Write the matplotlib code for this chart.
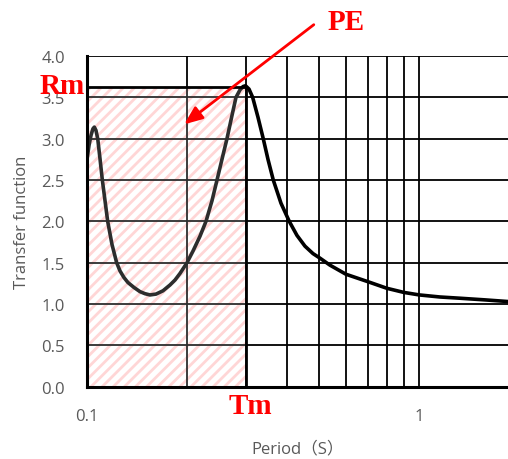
#!/usr/bin/env python3
"""Transfer function vs period, with the PE area hatched up to Tm."""

import matplotlib
matplotlib.use("Agg")
import matplotlib.pyplot as plt
from matplotlib.patches import Rectangle
from matplotlib.ticker import FixedLocator, NullLocator


period = [0.1000, 0.1014, 0.1028, 0.1042, 0.1052, 0.1064, 0.1077, 0.1094,
          0.1112, 0.1154, 0.1189, 0.1228, 0.1257, 0.1292, 0.1328, 0.1385,
          0.1443, 0.1494, 0.1547, 0.1613, 0.1693, 0.1777, 0.1840, 0.1905,
          0.2000, 0.2084, 0.2188, 0.2281, 0.2378, 0.2462, 0.2548, 0.2638,
          0.2731, 0.2808, 0.2887, 0.2948, 0.3000, 0.3073, 0.3152, 0.3270,
          0.3392, 0.3505, 0.3636, 0.3835, 0.4062, 0.4285, 0.4529, 0.4788,
          0.5025, 0.5386, 0.6018, 0.7007, 0.7994, 0.8995, 1.0000, 1.154,
          1.326, 1.577, 1.849]
transfer = [2.75, 2.92, 3.04, 3.12, 3.14, 3.10, 3.00, 2.76,
            2.50, 2.00, 1.72, 1.50, 1.40, 1.32, 1.26, 1.20,
            1.15, 1.125, 1.11, 1.12, 1.16, 1.23, 1.29, 1.37,
            1.50, 1.64, 1.82, 2.00, 2.25, 2.50, 2.75, 3.00,
            3.28, 3.50, 3.59, 3.63, 3.64, 3.60, 3.50, 3.26,
            3.00, 2.75, 2.50, 2.22, 2.00, 1.83, 1.70, 1.61,
            1.555, 1.47, 1.36, 1.27, 1.19, 1.14, 1.11, 1.085,
            1.07, 1.05, 1.03]

T_MIN, T_M, T_MAX = 0.1, 0.3, 1.85
R_M = 3.63

x_grid = [0.1, 0.2, 0.3, 0.4, 0.5, 0.6, 0.7, 0.8, 0.9, 1.0]
x_labels = {0.1: "0.1", 1.0: "1"}
y_ticks = [0.0, 0.5, 1.0, 1.5, 2.0, 2.5, 3.0, 3.5, 4.0]

GRAY = "#595959"
RED = "#ff0000"
plt.rcParams["font.family"] = ["Open Sans", "Noto Sans CJK SC", "DejaVu Sans"]
plt.rcParams["hatch.linewidth"] = 2.0

fig = plt.figure(figsize=(5.08, 4.60), dpi=100)
ax = fig.add_axes([0.1713, 0.1572, 0.8287, 0.7189])

ax.set_xscale("log")
ax.set_xlim(T_MIN, T_MAX)
ax.set_ylim(0, 4.0)

# hatched PE area, with a faint veil over the curve like the original
ax.add_patch(Rectangle((T_MIN, 0), T_M - T_MIN, R_M, facecolor="white",
                       edgecolor="#ffcece", hatch="///", linewidth=0,
                       zorder=0.5))
ax.add_patch(Rectangle((T_MIN, 0), T_M - T_MIN, R_M, facecolor="white",
                       alpha=0.18, linewidth=0, zorder=2.5))
ax.add_patch(Rectangle((T_MIN, 0), T_M - T_MIN, R_M, fill=False,
                       edgecolor="black", linewidth=2.0, zorder=3))

# grid
for xv in x_grid:
    ax.axvline(xv, color="black", linewidth=1.3, zorder=1)
for yv in y_ticks:
    ax.axhline(yv, color="black", linewidth=1.3, zorder=1)

ax.plot(period, transfer, color="black", linewidth=2.6, zorder=2,
        solid_capstyle="round", solid_joinstyle="round")

ax.xaxis.set_major_locator(FixedLocator(list(x_labels)))
ax.xaxis.set_minor_locator(NullLocator())
ax.set_xticklabels(list(x_labels.values()))
ax.set_yticks(y_ticks)
ax.set_yticklabels([f"{v:.1f}" for v in y_ticks])
ax.tick_params(axis="both", length=0, colors=GRAY, labelsize=12)
ax.tick_params(axis="x", pad=15)
ax.tick_params(axis="y", pad=16)

for side in ("top", "right"):
    ax.spines[side].set_visible(False)
ax.spines["left"].set_linewidth(2.2)
ax.spines["bottom"].set_linewidth(2.2)

ax.set_xlabel("Period（S）", color=GRAY, fontsize=12, labelpad=12)
ax.set_ylabel("Transfer function", color=GRAY, fontsize=12, labelpad=8)

# red annotations
serif = dict(family="Liberation Serif", weight="bold", color=RED, fontsize=21)
fig.text(62 / 508, 1 - 86 / 460, "Rm", ha="center", va="center", **serif)
fig.text(250 / 508, 1 - 407 / 460, "Tm", ha="center", va="center", **serif)
fig.text(346 / 508, 1 - 22 / 460, "PE", ha="center", va="center", **serif)
ax.annotate("", xy=(182 / 508, 1 - 127 / 460), xycoords="figure fraction",
            xytext=(316 / 508, 1 - 24 / 460), textcoords="figure fraction",
            arrowprops=dict(arrowstyle="-|>,head_length=1.1,head_width=0.45",
                            color=RED, linewidth=2))

fig.savefig("out.png", dpi=100)
